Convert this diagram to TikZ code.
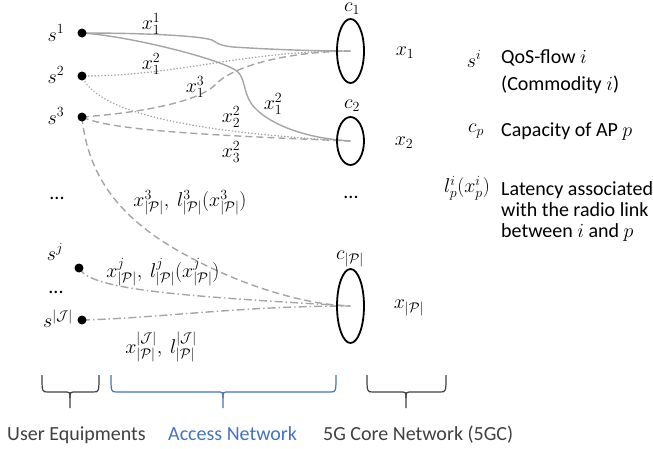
\RequirePackage{fix-cm}
\documentclass[tikz,border=0pt]{standalone}
\usepackage{fontspec}
\setmainfont{Carlito}
\usetikzlibrary{shapes.geometric,backgrounds}
\definecolor{lg}{RGB}{165,165,165}
\definecolor{ablue}{RGB}{68,114,196}
\definecolor{dgray}{RGB}{64,64,64}
\begin{document}
\begin{tikzpicture}[x=1pt,y=-1pt,
  every node/.style={font=\fontsize{20}{24}\selectfont, inner sep=0pt},
  ue/.style={circle, fill=black, minimum size=9pt, inner sep=0pt},
  ap/.style={ellipse, draw=black, line width=1.8pt, minimum width=27pt, minimum height=#1},
  flow/.style={draw=lg, line width=1.4pt},
  solidflow/.style={flow},
  dotflow/.style={flow, line width=1.7pt, dash pattern=on 0.1pt off 3.2pt, line cap=round},
  dashflow/.style={flow, dash pattern=on 7pt off 4pt},
  dashdotflow/.style={flow, dash pattern=on 8pt off 3pt on 1.5pt off 3pt},
  brace/.style={draw=dgray, line width=1.2pt},
  bluebrace/.style={draw=ablue, line width=1.2pt},
  bottomlbl/.style={anchor=base west, text=dgray},
  legtext/.style={anchor=base west},
]
\useasboundingbox (0,0) rectangle (653,448);

% user equipments
\node[ue] (s1) at (82,33) {};
\node[ue] (s2) at (82,76) {};
\node[ue] (s3) at (82,117) {};
\node[ue] (sj) at (79,268) {};
\node[ue] (sJ) at (82,320) {};
\node (ls1) at (56,33) {$s^1$};
\node (ls2) at (56,75) {$s^2$};
\node (ls3) at (56,116) {$s^3$};
\node (dots1) at (57,198) {...};
\node (lsj) at (55,252) {$s^j$};
\node (dots2) at (56,292) {...};
\node (lsJ) at (58,319) {$s^{|\mathcal{J}|}$};

% access points
\node[ap=64pt] (c1) at (350.5,51) {};
\node[ap=48pt] (c2) at (350.5,141) {};
\node[ap=74pt] (cP) at (350.5,306) {};
\node (lc1) at (352,9) {$c_1$};
\node (lc2) at (352,106) {$c_2$};
\node (lcP) at (350,259) {$c_{|\mathcal{P}|}$};
\node (dots3) at (351,197) {...};
\node (x1) at (405,53) {$x_1$};
\node (x2) at (404,143) {$x_2$};
\node (xP) at (409,308) {$x_{|\mathcal{P}|}$};

% flows
\begin{scope}[on background layer]
\draw[solidflow] (s1.center) .. controls (150,33) and (200,36) .. (212,40)
  .. controls (218,42) and (215,45) .. (233,47)
  .. controls (280,50) and (320,51) .. (c1.center);
\draw[solidflow] (s1.center) .. controls (130,36) and (225,60) .. (238,72)
  .. controls (246,80) and (243,96) .. (255,108)
  .. controls (268,122) and (300,138) .. (c2.center);
\draw[dotflow] (s2.center) .. controls (180,76) and (240,51) .. (c1.center);
\draw[dotflow] (s2.center) .. controls (95,110) and (180,132) .. (c2.center);
\draw[dashflow] (s3.center) .. controls (150,112) and (200,100) .. (215,85)
  .. controls (230,68) and (280,52) .. (c1.center);
\draw[dashflow] (s3.center) .. controls (110,130) and (200,135) .. (c2.center);
\draw[dashflow] (s3.center) .. controls (90,200) and (150,240) .. (220,272)
  .. controls (260,290) and (310,305) .. (cP.center);
\draw[dashdotflow] (sj.center) .. controls (90,290) and (180,296) .. (cP.center);
\draw[dashdotflow] (sJ.center) .. controls (160,318) and (240,306) .. (cP.center);
\end{scope}

% flow labels
\node (l11) at (151,24) {$x_1^1$};
\node (l12) at (151,64) {$x_1^2$};
\node (l13) at (195,87) {$x_1^3$};
\node (l12b) at (273,104) {$x_1^2$};
\node (l22) at (231,117) {$x_2^2$};
\node (l32) at (231,152) {$x_3^2$};
\node (l3P) at (190,203) {$x^3_{|\mathcal{P}|},\ l^3_{|\mathcal{P}|}\bigl(x^3_{|\mathcal{P}|}\bigr)$};
\node (ljP) at (163,272) {$x^j_{|\mathcal{P}|},\ l^j_{|\mathcal{P}|}\Bigl(x^j_{|\mathcal{P}|}\Bigr)$};
\node (lJP) at (161,347) {$x^{|\mathcal{J}|}_{|\mathcal{P}|},\ l^{|\mathcal{J}|}_{|\mathcal{P}|}$};

% legend
\node (gs) at (474,59) {$s^i$};
\node[legtext] (gt1) at (501,63) {QoS-flow $i$};
\node[legtext] (gt2) at (501,90) {(Commodity $i$)};
\node (gc) at (476,131) {$c_p$};
\node[legtext] (gt3) at (501,136) {Capacity of AP $p$};
\node (gl) at (467,188) {$l_p^i\bigl(x_p^i\bigr)$};
\node[legtext] (gt4) at (501,195) {Latency associated};
\node[legtext] (gt5) at (501,216) {with the radio link};
\node[legtext] (gt6) at (501,237) {between $i$ and $p$};

% braces
\draw[brace] (42,375) .. controls (42,392) .. (48,392) -- (64,392)
  .. controls (70,392) .. (70,398) -- (70,408);
\draw[brace] (99,375) .. controls (99,392) .. (93,392) -- (76,392)
  .. controls (70,392) .. (70,398);
\draw[bluebrace] (111,375) .. controls (111,392) .. (117,392) -- (217,392)
  .. controls (223,392) .. (223,398) -- (223,408);
\draw[bluebrace] (336,375) .. controls (336,392) .. (330,392) -- (229,392)
  .. controls (223,392) .. (223,398);
\draw[brace] (367,375) .. controls (367,392) .. (373,392) -- (400,392)
  .. controls (406,392) .. (406,398) -- (406,408);
\draw[brace] (446,375) .. controls (446,392) .. (440,392) -- (412,392)
  .. controls (406,392) .. (406,398);

\node[bottomlbl] (ue) at (7,440) {User Equipments};
\node[bottomlbl, text=ablue] (an) at (168,440) {Access Network};
\node[bottomlbl] (cn) at (323,440) {5G Core Network (5GC)};
\end{tikzpicture}
\end{document}
